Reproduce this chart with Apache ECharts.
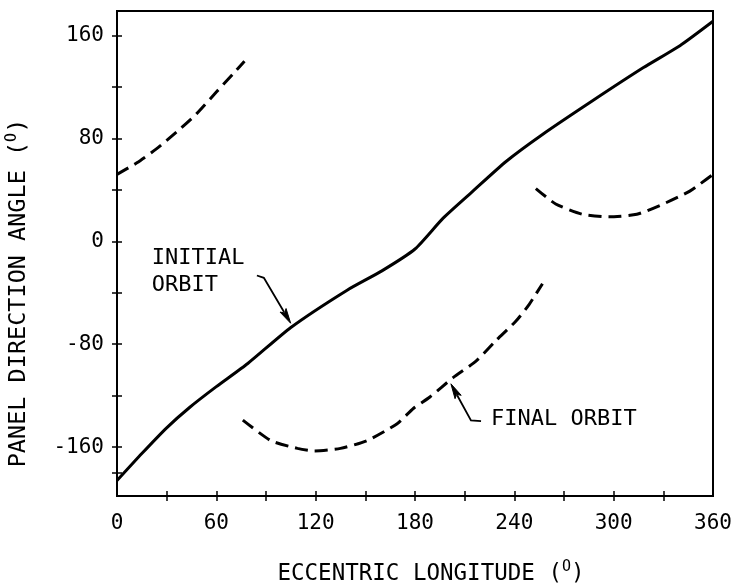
<!DOCTYPE html>
<html>
<head>
<meta charset="utf-8">
<script src="https://cdn.jsdelivr.net/npm/echarts@6/dist/echarts.min.js"></script>
<style>
  html, body { margin: 0; padding: 0; background: #fff; }
  #chart { width: 732px; height: 588px; }
</style>
</head>
<body>
<div id="chart"></div>
<script>
// Panel direction angle (deg) versus eccentric longitude (deg)
const initialOrbit = [
  [0, -186], [15, -165], [30, -145], [44, -129], [60, -113], [79, -95],
  [105, -67], [139, -38], [160, -23], [180, -6], [197, 18], [215, 39],
  [235, 62], [257, 83], [287, 109], [318, 135], [340, 152], [360, 171]
];
// The final-orbit curve is drawn in three separate branches
const finalOrbitA = [
  [0, 52], [12, 61], [24, 72], [36, 85], [48, 99], [60, 116], [70, 130], [77, 140]
];
const finalOrbitB = [
  [76, -139], [93, -155], [109, -161], [119, -163], [135, -161], [151, -155],
  [169, -142], [179, -130], [189, -121], [203, -106], [217, -93], [229, -77],
  [241, -62], [249, -49], [257, -33]
];
const finalOrbitC = [
  [253, 41], [265, 29], [281, 21], [297, 19], [314, 21], [330, 29], [346, 39], [360, 52]
];

const xTickValues = [30, 60, 90, 120, 150, 180, 210, 240, 270, 300, 330];
const xLabelValues = [0, 60, 120, 180, 240, 300, 360];
const yTickValues = [-180, -160, -120, -80, -40, 0, 40, 80, 120, 160];
const yLabelValues = [-160, -80, 0, 80, 160];

// Callout leaders (data units) and their labels
const initialLeader = [[84.5, -26.6], [88.7, -28.4], [104.9, -63.7]];
const finalLeader = [[219.9, -139.8], [213.8, -139.3], [201.7, -110.8]];
const initialLabelAt = [21, -23.9];
const finalLabelAt = [225.9, -138.6];

const FONT = '"DejaVu Sans Mono", "Liberation Mono", monospace';
const INK = '#000';

const chart = echarts.init(document.getElementById('chart'));

function xAxisDef(main) {
  return {
    type: 'value', min: 0, max: 360, position: 'bottom',
    axisLine: { show: main, onZero: false, lineStyle: { color: INK, width: 2 } },
    axisTick: { show: true, inside: !main, length: 5, customValues: xTickValues,
      lineStyle: { color: INK, width: 1.5 } },
    axisLabel: { show: main, customValues: xLabelValues, fontFamily: FONT, fontSize: 21,
      color: INK, margin: 17 },
    splitLine: { show: false }
  };
}
function yAxisDef(main) {
  return {
    type: 'value', min: -198, max: 179, position: 'left',
    axisLine: { show: main, onZero: false, lineStyle: { color: INK, width: 2 } },
    axisTick: { show: true, inside: !main, length: 5, customValues: yTickValues,
      lineStyle: { color: INK, width: 1.5 } },
    axisLabel: { show: main, customValues: yLabelValues, fontFamily: FONT, fontSize: 21,
      color: INK, margin: 13 },
    splitLine: { show: false }
  };
}

function curve(data, name, dashedStyle) {
  return {
    type: 'line', name: name, data: data, showSymbol: false,
    smooth: 0.2,
    xAxisIndex: 0, yAxisIndex: 0,
    lineStyle: { color: INK, width: 3, type: dashedStyle ? [13, 7] : 'solid' }
  };
}

chart.setOption({
  animation: false,
  backgroundColor: '#fff',
  grid: { left: 117, right: 19, top: 11, bottom: 92, show: true,
    outerBoundsMode: 'none', containLabel: false,
    borderColor: INK, borderWidth: 2, backgroundColor: 'transparent' },
  xAxis: [xAxisDef(true), xAxisDef(false)],
  yAxis: [yAxisDef(true), yAxisDef(false)],
  series: [
    curve(initialOrbit, 'INITIAL ORBIT', false),
    curve(finalOrbitA, 'FINAL ORBIT', true),
    curve(finalOrbitB, 'FINAL ORBIT', true),
    curve(finalOrbitC, 'FINAL ORBIT', true)
  ]
});

function px(p) { return chart.convertToPixel({ gridIndex: 0 }, p); }

function leader(points) {
  const pts = points.map(px);
  const tip = pts[pts.length - 1];
  const prev = pts[pts.length - 2];
  const dx = tip[0] - prev[0], dy = tip[1] - prev[1];
  const len = Math.hypot(dx, dy);
  const ux = dx / len, uy = dy / len;
  const headLen = 15, halfW = 3.5;
  const bx = tip[0] - ux * headLen, by = tip[1] - uy * headLen;
  const shaft = pts.slice(0, -1).concat([[bx + ux * 2, by + uy * 2]]);
  return [
    { type: 'polyline', shape: { points: shaft }, style: { stroke: INK, lineWidth: 1.8, fill: null } },
    { type: 'polygon', shape: { points: [tip, [bx - uy * halfW, by + ux * halfW], [bx + ux * 3, by + uy * 3], [bx + uy * halfW, by - ux * halfW]] },
      style: { fill: INK, stroke: INK, lineWidth: 1 } }
  ];
}

const iLab = px(initialLabelAt);
const fLab = px(finalLabelAt);
function titleRich(size) {
  return {
    t: { fontFamily: FONT, fontSize: size, fill: INK, lineHeight: 28 },
    s: { fontFamily: FONT, fontSize: 15, fill: INK, lineHeight: 28, verticalAlign: 'top', padding: [0, 0, 9, 0] }
  };
}

chart.setOption({
  graphic: [].concat(
    leader(initialLeader),
    leader(finalLeader),
    [
      { type: 'text', x: iLab[0], y: iLab[1],
        style: { text: 'INITIAL\nORBIT', fontFamily: FONT, fontSize: 22, lineHeight: 27,
          fill: INK, align: 'left', verticalAlign: 'middle' } },
      { type: 'text', x: fLab[0], y: fLab[1],
        style: { text: 'FINAL ORBIT', fontFamily: FONT, fontSize: 22,
          fill: INK, align: 'left', verticalAlign: 'middle' } },
      { type: 'text', x: 431, y: 574,
        style: { text: '{t|ECCENTRIC LONGITUDE (}{s|O}{t|)}', rich: titleRich(22.5),
          align: 'center', verticalAlign: 'middle' } },
      { type: 'text', x: 19, y: 293, rotation: Math.PI / 2,
        style: { text: '{t|PANEL DIRECTION ANGLE (}{s|O}{t|)}', rich: titleRich(23.5),
          align: 'center', verticalAlign: 'middle' } }
    ]
  )
});
</script>
</body>
</html>
